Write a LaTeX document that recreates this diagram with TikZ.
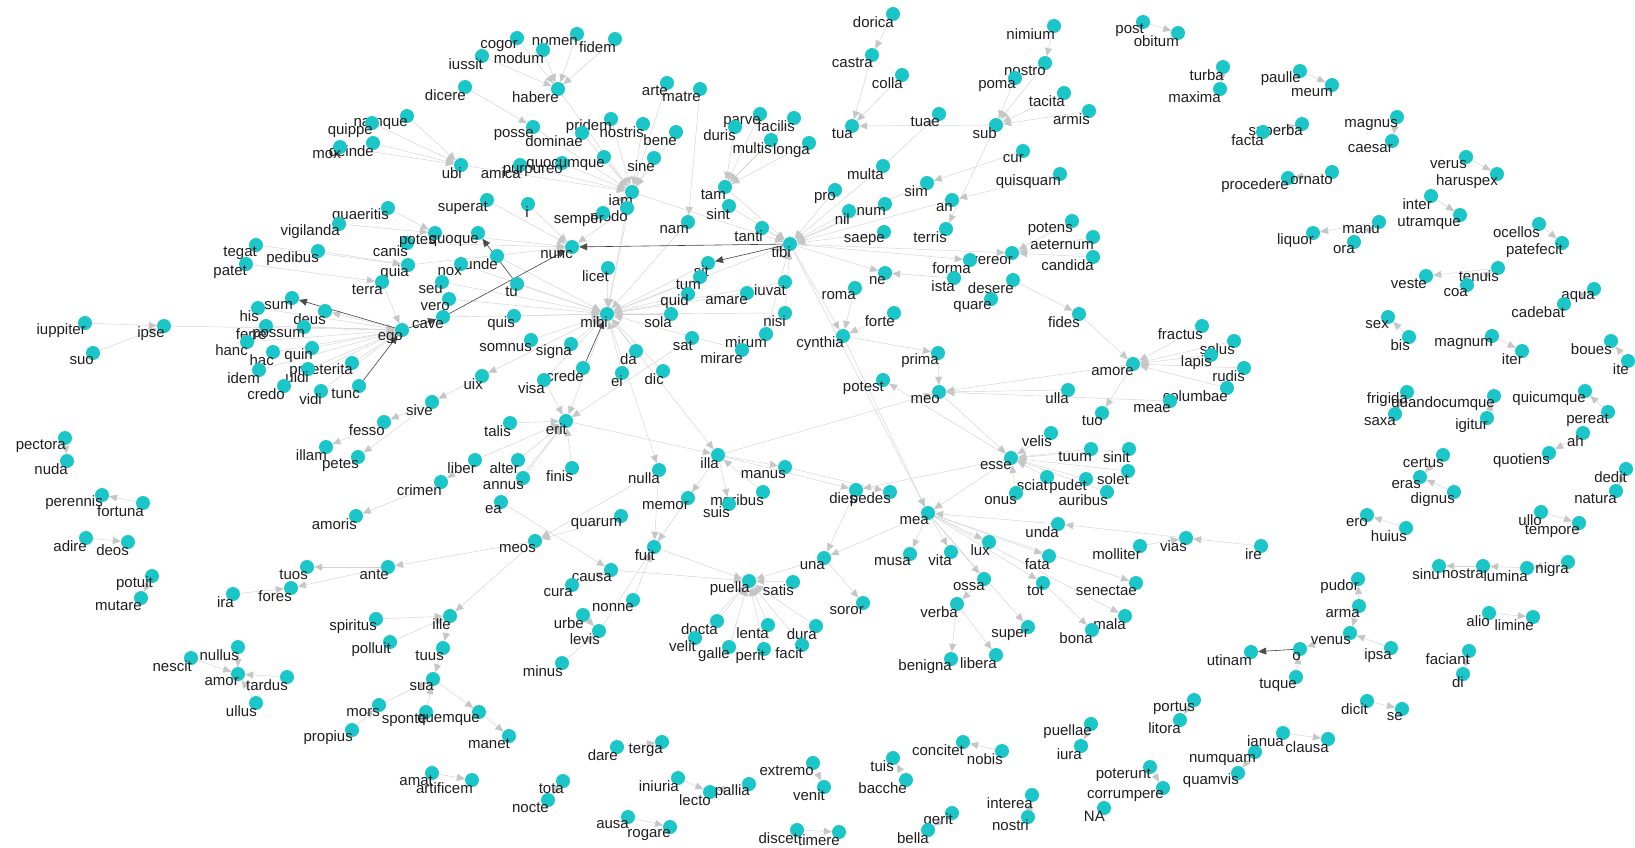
\documentclass[tikz,border=0pt]{standalone}
\usepackage{fontspec}
\setmainfont{Liberation Sans}
\usetikzlibrary{arrows.meta,backgrounds}
\definecolor{dotc}{RGB}{26,198,200}
\definecolor{txtc}{RGB}{30,30,30}
\tikzset{
  dot/.style={circle,fill=dotc,inner sep=0pt,minimum size=14pt},
  lbl/.style={anchor=east,inner sep=0pt,text=txtc,font=\fontsize{15}{15}\selectfont},
  lnk/.style={draw=gray!35,line width=0.45pt,
    -{Triangle[length=8pt,width=7pt,color=gray!45,fill=gray!45]}},
  strong/.style={draw=black!75,line width=0.6pt,
    -{Triangle[length=8pt,width=7pt,color=black!70,fill=black!70]}}
}
\begin{document}
\begin{tikzpicture}[x=1pt,y=-1pt,line cap=round,line join=round]
    \useasboundingbox (0,0) rectangle (1635,847);
    % words
    \foreach \n/\x/\y in {
      namque/407/116, quippe/372/123, deinde/373/143, mox/340/147,
      quaeritis/388/208, vigilanda/339/224, tegat/256/245, pedibus/318/251,
      patet/246/264, canis/407/243, potes/435/233, quoque/478/233,
      quia/408/265, terra/382/282,
      cogor/517/38, nomen/577/34, fidem/615/39, modum/543/50, iussit/482/56,
      habere/558/89, dicere/465/87, arte/667/83, matre/700/89, posse/533/127,
      pridem/611/119, dominae/582/133, nostris/643/124, bene/676/132,
      parve/760/114, facilis/794/118, duris/735/127, multis/771/140,
      longa/809/143, ubi/461/165, amica/520/165, purpureo/562/163,
      quocumque/604/157, sine/654/158, iam/632/192, modo/627/208,
      semper/603/213, superat/487/200, i/528/204, tam/725/187, sint/729/206,
      nam/688/222, tanti/762/228, tibi/790/244, nunc/572/247, unde/497/256,
      nox/461/264, licet/608/268, sit/708/263, tum/700/277, quid/688/294,
      amare/747/293, iuvat/785/282,
      dorica/893/14, castra/872/55, colla/902/75, tua/852/126, tuae/939/114,
      nimium/1054/26, nostro/1045/63, poma/1015/78, tacita/1064/93,
      armis/1089/111, sub/996/125, post/1143/22, obitum/1178/33,
      turba/1223/67, maxima/1220/89, cur/1023/151, multa/883/166,
      quisquam/1060/174, pro/835/190, sim/927/183, nil/849/211, num/885/204,
      an/952/200, saepe/884/232, terris/946/229, potens/1072/221,
      aeternum/1093/237, candida/1093/257, vereor/1012/253, forma/970/260,
      ne/885/273, ista/954/278, desere/1013/280, roma/855/288,
      paulle/1300/71, meum/1332/85, magnus/1397/117, caesar/1392/141,
      superba/1302/124, facta/1263/132, verus/1466/157, haruspex/1497/174,
      procedere/1288/178, ornato/1332/172, inter/1431/196, utramque/1460/215,
      manu/1379/222, liquor/1313/233, ora/1354/242, ocellos/1539/224,
      patefecit/1562/243, tenuis/1498/268, veste/1426/276, coa/1467/285,
      aqua/1594/289, cadebat/1564/304, sex/1388/317, bis/1409/337,
      magnum/1492/336, iter/1522/351, boues/1611/341, ite/1628/361,
      frigida/1407/392, quandocumque/1494/396, saxa/1395/414, igitur/1487/418,
      quicumque/1585/391, pereat/1608/412, ah/1583/433, quotiens/1549/453,
      certus/1443/455, eras/1420/477, dignus/1454/492, dedit/1626/469,
      natura/1616/491, ullo/1541/512, tempore/1579/523, ero/1367/515,
      huius/1406/528, ire/1261/546, solus/1234/341, rudis/1244/368,
      columbae/1227/388, sinu/1439/566, nostra/1483/566, lumina/1527/568,
      nigra/1568/562,
      forte/894/313, quare/991/299, fides/1079/314, cynthia/843/336,
      prima/938/353, fractus/1202/326, lapis/1211/355, amore/1133/364,
      potest/883/380, meo/939/392, ulla/1068/390, meae/1170/401, tuo/1102/413,
      velis/1051/433, esse/1011/458, tuum/1091/449, sinit/1129/449,
      solet/1128/471, sciat/1047/477, pudet/1086/479, onus/1016/493,
      auribus/1107/492, dies/856/490, pedes/890/492, mea/928/513,
      unda/1058/524, molliter/1140/546, vias/1186/538, lux/989/542,
      musa/910/554, vita/951/552, fata/1049/556, una/824/558,
      seu/442/282, vero/449/299, cave/443/317, tu/517/284, mihi/607/314,
      quis/514/316, sola/671/314, nisi/785/313, somnus/531/340, signa/571/344,
      sat/692/338, mirum/766/334, mirare/742/350, da/636/351, crede/583/368,
      ei/622/373, dic/663/371, uix/482/376, visa/544/380, sive/432/402,
      talis/510/423, erit/566/421, illa/718/455, liber/475/460, alter/518/460,
      manus/785/467, finis/572/468, nulla/659/470, annus/523/478,
      crimen/441/482, moribus/763/492, suis/729/504, memor/688/498, ea/501/502,
      quarum/621/516, meos/535/541, fuit/654/547, causa/611/570,
      sum/292/298, his/258/308, deus/325/311, iuppiter/85/323, ipse/164/326,
      suo/93/353,
      ferre/266/326, possum/304/327, hanc/247/342, ego/402/330, hac/273/352,
      quin/312/348, idem/259/370, praeterita/352/363, uidi/308/369,
      credo/284/386, vidi/321/391, tunc/359/386, fesso/384/422, illam/326/447,
      petes/358/457, pectora/65/438, nuda/67/461, perennis/102/495,
      fortuna/143/503, adire/86/538, deos/128/542, amoris/356/516,
      potuit/152/576, mutare/141/598, tuos/307/567, ante/388/567, ira/233/594,
      fores/291/588, spiritus/376/619, polluit/390/642, nullus/238/647,
      nescit/191/658, amor/238/674, tardus/287/677, ullus/256/703,
      mors/379/705, propius/352/730,
      cura/572/585, puella/749/581, satis/793/582, nonne/633/600, ille/450/616,
      urbe/583/615, levis/599/631, docta/717/621, lenta/768/625, dura/816/626,
      velit/695/638, galle/729/647, perit/764/649, facit/802/645, tuus/443/648,
      minus/562/663, sua/433/679, sponte/426/712, quemque/479/712,
      manet/509/736, amat/432/773, artificem/472/780, dare/617/747,
      terga/662/742, tota/563/781, nocte/548/800, iniuria/678/778,
      lecto/710/792, pallia/749/784, extremo/813/763, venit/824/787,
      ausa/628/817, rogare/670/827, discet/797/830, timere/839/832,
      soror/863/603, ossa/984/579, tot/1043/583, senectae/1136/583,
      verba/957/604, super/1028/627, mala/1125/616, bona/1092/630,
      benigna/951/659, libera/996/655, portus/1194/700, litora/1180/720,
      puellae/1091/724, iura/1081/746, concitet/963/742, nobis/1002/751,
      tuis/893/758, bacche/906/780, interea/1032/795, nostri/1028/817,
      poterunt/1150/767, corrumpere/1163/788, NA/1104/808, gerit/952/813,
      bella/928/830, numquam/1255/752, quamvis/1238/773,
      pudor/1358/579, arma/1359/606, venus/1350/633, ipsa/1391/648, o/1300/649,
      utinam/1251/652, tuque/1296/677, alio/1489/613, limine/1533/617,
      faciant/1469/651, di/1463/674, dicit/1367/701, se/1402/709,
      ianua/1283/733, clausa/1328/739}{
      \node[dot] (\n) at (\x,\y) {};
      \node[lbl] (\n-l) at ([xshift=1pt,yshift=-8pt]\n) {\n};
    }
    % links
    \begin{pgfonlayer}{background}
      \foreach \a/\b in {
        dorica/castra, castra/tua, colla/tua, sub/tua, multa/tuae,
        nimium/nostro, nostro/sub, poma/sub, tacita/sub, armis/sub, sub/terris,
        cur/sim, quisquam/an, potens/vereor, aeternum/vereor, candida/vereor,
        post/obitum, turba/maxima, paulle/meum, magnus/caesar, facta/superba,
        ornato/procedere, verus/haruspex, inter/utramque, manu/liquor,
        ora/manu, ocellos/patefecit, coa/tenuis, tenuis/veste, cadebat/aqua,
        bis/sex, magnum/iter, ite/boues, frigida/saxa, igitur/quandocumque,
        pereat/quicumque, ah/quotiens, certus/eras, dignus/eras, dedit/natura,
        ullo/tempore, huius/ero, nostra/sinu, lumina/nostra, nigra/lumina,
        arma/pudor, arma/venus, ipsa/venus, venus/o, tuque/o, alio/limine,
        faciant/di, dicit/se, ianua/clausa, numquam/quamvis, portus/litora,
        puellae/iura, nobis/concitet, bacche/tuis, nostri/interea,
        poterunt/corrumpere, gerit/bella, dare/terga, tota/nocte,
        iniuria/lecto, pallia/lecto, extremo/venit, ausa/rogare,
        discet/timere, amat/artificem, pectora/nuda, fortuna/perennis,
        adire/deos, potuit/mutare, meos/ante, ante/tuos, ante/fores, ira/fores,
        nescit/amor, nullus/amor, tardus/amor, ullus/amor, spiritus/ille,
        polluit/ille, meos/ille, ille/tuus, tuus/sua, sua/quemque,
        quemque/manet, mors/sua, propius/mors, sponte/sua, iuppiter/ipse,
        suo/ipse, ipse/ego, crimen/amoris, liber/crimen, fesso/illam,
        sive/fesso, sive/petes, uix/sive, mihi/uix,
        his/ego, ego/deus, ferre/ego, possum/ego, hanc/ego, hac/ego, quin/ego,
        idem/ego, praeterita/ego, uidi/ego, credo/ego, vidi/ego, terra/ego,
        quaeritis/potes, vigilanda/potes, tegat/quia, pedibus/quia,
        patet/terra, canis/nunc, quia/nunc, potes/nunc, superat/nunc, i/nunc,
        modo/nunc, cogor/habere, nomen/habere, fidem/habere, modum/habere,
        iussit/habere, habere/iam, namque/ubi, quippe/ubi, deinde/ubi, mox/ubi,
        dicere/posse, posse/iam, ubi/iam, amica/iam, purpureo/iam,
        quocumque/iam, dominae/iam, pridem/iam, nostris/iam, bene/iam,
        arte/iam, sine/iam, matre/nam, semper/iam,
        parve/tam, facilis/tam, duris/tam, multis/tam, longa/tam, tam/tibi,
        sint/tibi, tanti/tibi, iam/tibi, pro/tibi, multa/tibi, nil/tibi,
        num/tibi, saepe/tibi, an/tibi, sim/tibi, tibi/vereor, tibi/ne,
        tibi/forma, ista/ne, tibi/cynthia, roma/cynthia, forte/cynthia,
        tibi/mea, mirum/tibi, nisi/tibi,
        tu/mihi, licet/mihi, seu/mihi, vero/mihi, cave/mihi, quis/mihi,
        somnus/mihi, signa/mihi, visa/mihi, da/mihi, ei/mihi, dic/mihi,
        sola/mihi, quid/mihi, tum/mihi, amare/mihi, sit/mihi, nam/mihi,
        iam/mihi, modo/mihi, iuvat/mihi, nisi/mihi, mirare/mihi, unde/mihi,
        nox/mihi, mihi/illa, mihi/nulla, mihi/erit, mihi/tibi,
        talis/erit, liber/erit, alter/erit, annus/erit, finis/erit, ea/erit,
        visa/erit, sat/erit, erit/illa,
        illa/meo, illa/manus, illa/memor, illa/suis, moribus/illa,
        manus/pedes, illa/dies,
        memor/fuit, nulla/fuit, fuit/puella, causa/puella, cura/causa,
        nonne/fuit, levis/fuit, urbe/levis, minus/levis, nulla/meos,
        quarum/meos, ea/causa,
        satis/puella, docta/puella, velit/puella, galle/puella, lenta/puella,
        perit/puella, facit/puella, dura/puella, una/puella,
        dies/una, una/soror, esse/dies,
        meo/esse, velis/esse, tuum/esse, sinit/esse, solet/esse, pudet/esse,
        sciat/esse, onus/esse, auribus/esse, esse/potest, esse/mea,
        fractus/amore, solus/amore, lapis/amore, rudis/amore, columbae/amore,
        meae/meo, ulla/meo, fides/amore, desere/fides, amore/meo, amore/tuo,
        prima/meo, cynthia/prima, cynthia/mea,
        mea/musa, mea/vita, mea/lux, mea/fata, mea/ossa, ossa/verba,
        verba/benigna, verba/libera, mea/super, mea/tot, tot/bona, mea/mala,
        mea/senectae, unda/mea, vias/unda, molliter/vias, ire/vias, mea/una}{
        \draw[lnk] (\a) -- (\b);
      }
      \foreach \a/\b in {tibi/nunc, tibi/sit, ego/sum, cave/nunc, ego/cave,
        crede/mihi, tu/quoque, o/utinam, tunc/ego}{
        \draw[strong] (\a) -- (\b);
      }
    \end{pgfonlayer}
  \end{tikzpicture}
\end{document}
